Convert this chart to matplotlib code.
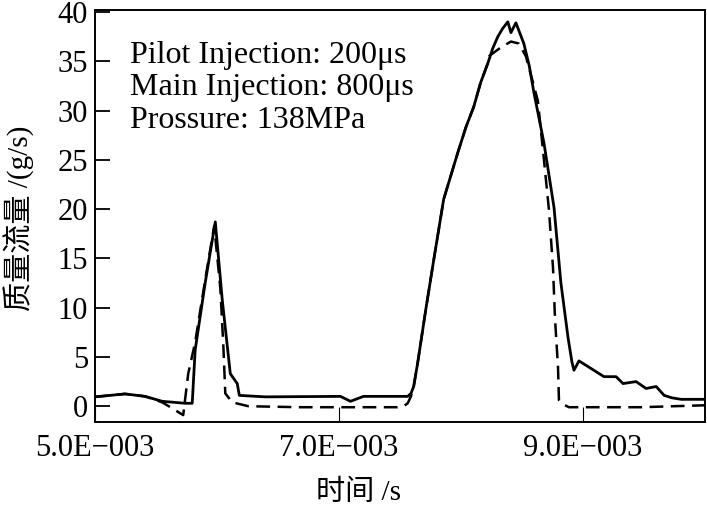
import matplotlib
matplotlib.use("Agg")
import matplotlib.pyplot as plt
from matplotlib.ticker import FixedLocator, FixedFormatter

plt.rcParams["font.family"] = ["Liberation Serif", "Noto Sans CJK SC"]
plt.rcParams["axes.unicode_minus"] = True

# ── DATA (time in ms, mass flow in g/s) ──────────────────────────────────────
t_solid = [5.000, 5.246, 5.411, 5.550, 5.739, 5.797, 5.821, 5.903, 5.986,
           6.043, 6.109, 6.166, 6.183, 6.396, 7.012, 7.094, 7.201, 7.563,
           7.590, 7.612, 7.645, 7.710, 7.776, 7.858, 7.973, 8.040, 8.105,
           8.160, 8.220, 8.260, 8.302, 8.340, 8.384, 8.409, 8.450, 8.515,
           8.560, 8.598, 8.680, 8.762, 8.819, 8.877, 8.909, 8.926, 8.967,
           9.172, 9.271, 9.328, 9.435, 9.517, 9.600, 9.665, 9.730, 9.805,
           10.01]
q_solid = [0.95, 1.25, 1.0, 0.5, 0.3, 0.3, 5.7, 12.5, 18.7,
           10.8, 3.3, 2.3, 1.1, 0.95, 1.0, 0.5, 1.0, 1.0,
           1.3, 2.0, 4.4, 9.7, 14.8, 21.0, 25.7, 28.3, 30.4,
           32.8, 34.8, 36.3, 37.5, 38.3, 39.0, 37.9, 38.9, 36.8,
           34.5, 31.8, 26.7, 20.2, 12.5, 7.0, 4.5, 3.65, 4.6,
           3.0, 3.0, 2.3, 2.5, 1.8, 2.0, 1.1, 0.85, 0.7,
           0.7]

t_dash = [5.000, 5.246, 5.411, 5.550, 5.632, 5.723, 5.764, 5.821, 5.903,
          5.977, 6.027, 6.051, 6.068, 6.125, 6.257, 6.684, 7.480, 7.530,
          7.563, 7.590, 7.612, 7.645, 7.710, 7.776, 7.858, 7.973, 8.040,
          8.105, 8.160, 8.220, 8.228, 8.326, 8.409, 8.474, 8.532, 8.630,
          8.680, 8.721, 8.754, 8.770, 8.795, 8.803, 8.836, 8.885, 9.476,
          10.01]
q_dash = [0.95, 1.25, 1.0, 0.4, -0.2, -0.9, 3.3, 6.5, 12.8,
          18.3, 12.0, 6.4, 1.3, 0.4, 0.0, -0.1, -0.1, 0.0,
          0.3, 1.0, 2.0, 4.4, 9.7, 14.8, 21.0, 25.7, 28.3,
          30.4, 32.8, 34.8, 35.5, 36.4, 37.0, 36.8, 35.5, 31.0,
          25.0, 19.9, 14.1, 9.0, 4.0, 0.6, 0.2, -0.1, -0.1,
          0.1]

x_ticks = [5.0e-3, 7.0e-3, 9.0e-3]
x_tick_labels = ["5.0E\u2212003", "7.0E\u2212003", "9.0E\u2212003"]
y_ticks = [0, 5, 10, 15, 20, 25, 30, 35, 40]

notes = ["Pilot Injection: 200\u03bcs", "Main Injection: 800\u03bcs",
         "Prossure: 138MPa"]

W, H = 707, 509

fig = plt.figure(figsize=(W / 100, H / 100), dpi=100)
ax = fig.add_axes([95 / W, 1 - 422 / H, 610 / W, 412 / H])

ax.plot([t * 1e-3 for t in t_solid], q_solid, color="black", lw=2.0,
        solid_joinstyle="round")
ax.plot([t * 1e-3 for t in t_dash], q_dash, color="black", lw=1.8,
        dashes=(5.5, 3))

ax.set_xlim(5.0e-3, 10.0e-3)
ax.set_ylim(-1.6, 40.2)

ax.xaxis.set_major_locator(FixedLocator(x_ticks))
ax.xaxis.set_major_formatter(FixedFormatter(x_tick_labels))
ax.set_yticks(y_ticks)

ax.tick_params(axis="y", direction="in", length=11, width=1.3,
               labelsize=22, pad=5)
ax.tick_params(axis="x", direction="in", length=11, width=0.8,
               labelsize=22, pad=9)
for sp in ax.spines.values():
    sp.set_linewidth(1.4)

# annotation block
for i, s in enumerate(notes):
    fig.text(130 / W, 1 - (63 + 32.5 * i) / H, s, fontsize=23,
             ha="left", va="baseline")

# axis labels
fig.text(19 / W, 1 - 218 / H, "质量流量 /(g/s)", fontsize=21,
         rotation=90, ha="center", va="center")
fig.text(359 / W, 1 - 493 / H, "时间 /s", fontsize=21,
         ha="center", va="center")

fig.savefig("out.png", dpi=100)
